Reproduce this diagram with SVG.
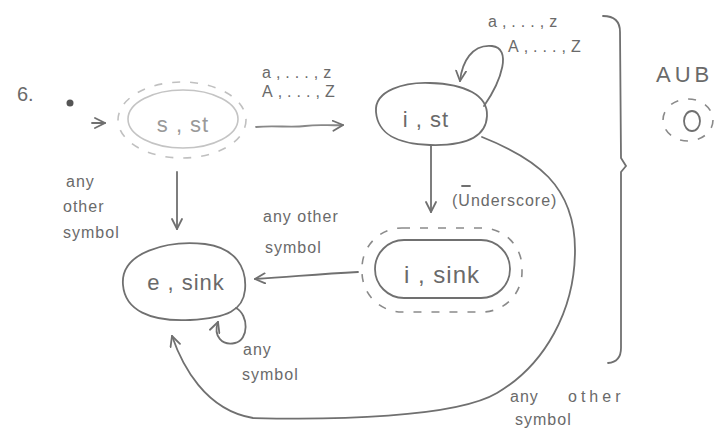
<svg xmlns="http://www.w3.org/2000/svg" width="728" height="435" viewBox="0 0 728 435">
<style>
text{font-family:"Liberation Sans","DejaVu Sans",sans-serif;fill:#6a6a6a}
.lbl{font-size:16px;letter-spacing:1px}
.rng{font-size:16px;letter-spacing:5px}
.node{font-size:22px;letter-spacing:1px}
.ln{fill:none;stroke:#707070;stroke-width:1.8;stroke-linecap:round}
.pale{fill:none;stroke:#c4c4c4;stroke-width:1.6}
.dash{fill:none;stroke:#8a8a8a;stroke-width:1.6;stroke-dasharray:8 10}
.dashpale{fill:none;stroke:#c0c0c0;stroke-width:1.6;stroke-dasharray:8 10}
</style>
<defs>
<marker id="ah" viewBox="0 0 12 12" refX="11" refY="6" markerWidth="12" markerHeight="12" markerUnits="userSpaceOnUse" orient="auto">
<path d="M1,1 L11,6 L1,11" fill="none" stroke="#707070" stroke-width="1.8" stroke-linecap="round"/>
</marker>
</defs>
<rect width="728" height="435" fill="#ffffff"/>

<text x="17" y="101" style="font-size:20px">6.</text>
<circle cx="70" cy="103" r="3.5" fill="#555"/>

<g id="node-s-st">
<ellipse cx="183" cy="119" rx="55" ry="29" class="pale"/>
<ellipse cx="182" cy="120" rx="64" ry="38" class="dashpale"/>
<text x="183" y="132" class="node" text-anchor="middle" style="fill:#999">s , st</text>
</g>

<g id="node-i-st">
<path d="M376 112 C374 90 405 82 430 83 C465 84 488 95 487 116 C486 138 465 146 430 145 C398 144 378 135 376 112 Z" class="ln"/>
<text x="426" y="127" class="node" text-anchor="middle">i , st</text>
</g>

<g id="node-i-sink">
<rect x="375" y="240" width="135" height="58" rx="29" class="ln"/>
<rect x="362" y="228" width="160" height="84" rx="40" class="dash"/>
<text x="442" y="283" class="node" text-anchor="middle" style="font-size:24px">i , sink</text>
</g>

<g id="node-e-sink">
<path d="M123 285 C120 252 168 240 205 244 C236 248 247 268 245 290 C243 310 228 318 190 320 C150 322 125 310 123 285 Z" class="ln"/>
<text x="186" y="290" class="node" text-anchor="middle">e , sink</text>
</g>

<g id="node-AUB">
<text x="656" y="82" style="font-size:22px;letter-spacing:4px">AUB</text>
<ellipse cx="688" cy="120" rx="25" ry="21" class="dash"/>
<ellipse cx="692" cy="121" rx="8" ry="10" class="ln"/>
</g>

<g id="connectors">
<path d="M92 123 L105 123" class="ln" marker-end="url(#ah)"/>
<path d="M256 127 C275 125 290 128 305 126 C320 124 330 126 343 125" class="ln" marker-end="url(#ah)" style="stroke:#888"/>
<path d="M484 106 C502 80 512 48 492 46 C472 44 462 62 460 81" class="ln" marker-end="url(#ah)"/>
<path d="M431 146 L431 212" class="ln" marker-end="url(#ah)"/>
<path d="M177 172 L177 229" class="ln" marker-end="url(#ah)"/>
<path d="M358 272 C320 274 300 276 255 279" class="ln" marker-end="url(#ah)"/>
<path d="M236 308 C249 315 249 340 235 343 C222 346 213 336 218 322" class="ln" marker-end="url(#ah)"/>
<path d="M482 137 C535 158 575 185 575 250 C575 310 545 365 497 393 C455 418 330 420 253 418 C205 410 182 365 172 336" class="ln" marker-end="url(#ah)"/>
<path d="M603 16 Q620 16 620 32 L621 158 L626 166 L621 172 L621 348 Q621 362 608 363" class="ln"/>
<path d="M462 186 L470 186" class="ln"/>
</g>

<g id="labels">
<text x="262" y="78" class="rng">a,...,z</text>
<text x="262" y="97" class="rng">A,...,Z</text>
<text x="488" y="27" class="rng">a,...,z</text>
<text x="508" y="52" class="rng">A,...,Z</text>
<text x="452" y="206" class="lbl">(Underscore)</text>
<text x="263" y="222" class="lbl">any other</text>
<text x="265" y="253" class="lbl">symbol</text>
<text x="66" y="187" class="lbl">any</text>
<text x="63" y="212" class="lbl">other</text>
<text x="63" y="238" class="lbl">symbol</text>
<text x="243" y="355" class="lbl">any</text>
<text x="242" y="380" class="lbl">symbol</text>
<text x="510" y="402" class="lbl">any</text>
<text x="568" y="402" class="lbl" style="letter-spacing:4px">other</text>
<text x="515" y="425" class="lbl">symbol</text>
</g>
</svg>
